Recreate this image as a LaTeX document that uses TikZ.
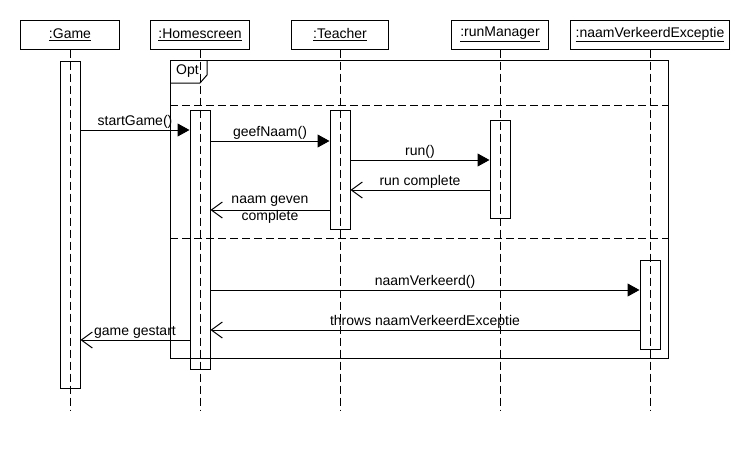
\documentclass[tikz,border=0pt]{standalone}
\usepackage{fontspec}
\setmainfont{Liberation Sans}
\usetikzlibrary{arrows.meta}

\tikzset{
  head/.style={draw, line width=1pt, minimum height=29pt, inner sep=0pt},
  act/.style={draw, line width=1pt, minimum width=20pt, inner sep=0pt},
  life/.style={line width=1pt, dash pattern=on 8pt off 4pt},
  call/.style={line width=1pt, -{Triangle[length=12pt,width=13pt]}},
  reply/.style={line width=1pt, -{Straight Barb[length=11pt,width=16pt]}},
  lbl/.style={midway, above, inner sep=1.5pt}
}

\begin{document}
\begin{tikzpicture}[x=1pt, y=-1pt, font=\fontsize{14}{17}\selectfont]
		\useasboundingbox [fill=white] (0,0) rectangle (750,450);
		% Draw heads
		\node [head, minimum width=99pt] (game) at (70,34.5) {\underline{:Game}};
		\node [head, minimum width=99pt] (home) at (200,34.5) {\underline{:Homescreen}};
		\node [head, minimum width=97pt] (teacher) at (340,34.5) {\underline{:Teacher}};
		\node [head, minimum width=97pt] (runman) at (500,34.5) {\underline{:runManager}};
		\node [head, minimum width=159pt] (exc) at (650,34.5) {\underline{:naamVerkeerdExceptie}};
		% Draw lifelines
		\coordinate (gameend) at (70,410);
		\coordinate (homeend) at (200,410);
		\coordinate (teacherend) at (340,410);
		\coordinate (runmanend) at (500,410);
		\coordinate (excend) at (650,410);
		\draw [life] (game.south) -- (gameend);
		\draw [life] (home.south) -- (homeend);
		\draw [life] (teacher.south) -- (teacherend);
		\draw [life] (runman.south) -- (runmanend);
		\draw [life] (exc.south) -- (excend);
		% Draw activations
		\node [act, minimum height=327pt] (gameact) at (70,224.5) {};
		\node [act, minimum height=259pt] (homeact) at (200,239.5) {};
		\node [act, minimum height=119pt] (teacheract) at (340,169.5) {};
		\node [act, minimum height=98pt] (runmanact) at (500,169) {};
		\node [act, minimum height=89pt] (excact) at (650,304.5) {};
		% Draw opt frame
		\draw [line width=1pt] (170,60) rectangle (668,358);
		\draw [line width=1pt] (170,83) -- (200,83) -- (207,75) -- (207,60);
		\node (opt) at (187.5,71.5) {Opt};
		\draw [life] (170,105) -- (668,105);
		\draw [life] (170,238) -- (668,238);
		% Draw messages
		\draw [call] (gameact.east |- 0,130) -- (homeact.west |- 0,130) node [lbl] {startGame()};
		\draw [call] (homeact.east |- 0,141) -- (teacheract.west |- 0,141) node [lbl] {geefNaam()};
		\draw [call] (teacheract.east |- 0,160) -- (runmanact.west |- 0,160) node [lbl] {run()};
		\draw [reply] (runmanact.west |- 0,190) -- (teacheract.east |- 0,190) node [lbl] {run complete};
		\draw [reply] (teacheract.west |- 0,210) -- (homeact.east |- 0,210) node [midway, align=center, yshift=0pt, inner sep=0pt] {naam geven\\complete};
		\draw [call] (homeact.east |- 0,290) -- (excact.west |- 0,290) node [lbl] {naamVerkeerd()};
		\draw [reply] (excact.west |- 0,330) -- (homeact.east |- 0,330) node [lbl] {throws naamVerkeerdExceptie};
		\draw [reply] (homeact.west |- 0,340) -- (gameact.east |- 0,340) node [lbl] {game gestart};
	\end{tikzpicture}
\end{document}
